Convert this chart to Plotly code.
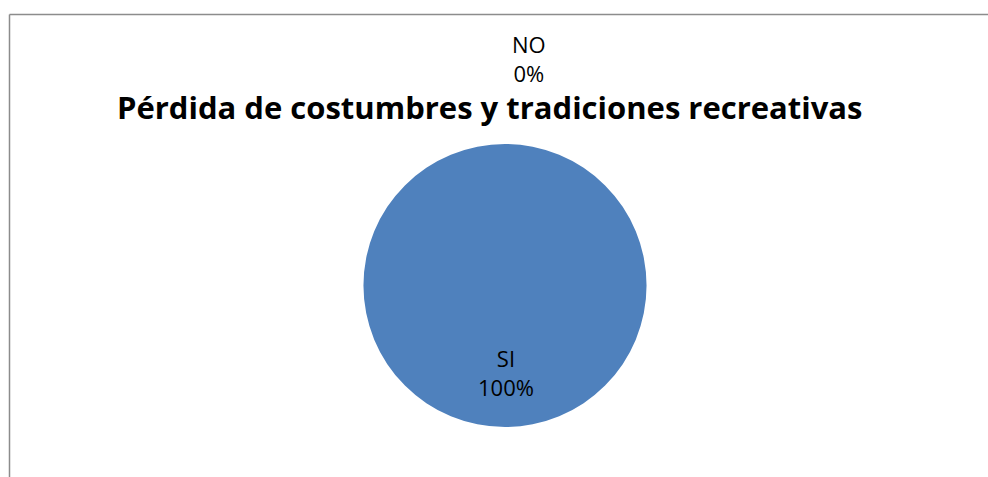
import plotly.graph_objects as go

labels = ["NO", "SI"]
values = [0, 100]
title_text = "Pérdida de costumbres y tradiciones recreativas"
colors = ["#C0504D", "#4F81BD"]

W, H = 988, 477
total = sum(values)
pcts = [f"{round(v / total * 100)}%" for v in values]

cx, cy, r = 505, 285.5, 141.5
fig = go.Figure(go.Pie(
    labels=labels, values=values, sort=False, direction="clockwise", rotation=0,
    marker=dict(colors=colors, line=dict(width=0)),
    textinfo="none", hoverinfo="label+percent", showlegend=False,
    domain=dict(x=[(cx - r) / W, (cx + r) / W], y=[1 - (cy + r) / H, 1 - (cy - r) / H]),
))

font_fam = "Open Sans, Liberation Sans, sans-serif"
# label positions (pixel)
label_pos = {"NO": (529, 58), "SI": (506, 372)}
for lab, pct in zip(labels, pcts):
    x, y = label_pos[lab]
    fig.add_annotation(x=x / W, y=1 - y / H, xref="paper", yref="paper",
                       text=f"{lab}<br>{pct}", showarrow=False,
                       font=dict(family=font_fam, size=22, color="#000000"),
                       xanchor="center", yanchor="middle", align="center")

fig.add_annotation(x=490 / W, y=1 - 107 / H, xref="paper", yref="paper",
                   text=f"<b>{title_text}</b>", showarrow=False,
                   font=dict(family=font_fam, size=31, color="#000000"),
                   xanchor="center", yanchor="middle")

# frame lines (left and top)
fig.add_shape(type="line", xref="paper", yref="paper", x0=9.5 / W, x1=9.5 / W,
              y0=0, y1=1 - 14.5 / H, line=dict(color="#8C8C8C", width=1.5))
fig.add_shape(type="line", xref="paper", yref="paper", x0=9.5 / W, x1=1,
              y0=1 - 14.5 / H, y1=1 - 14.5 / H, line=dict(color="#8C8C8C", width=1.5))

fig.update_layout(width=W, height=H, margin=dict(l=0, r=0, t=0, b=0),
                  paper_bgcolor="white", plot_bgcolor="white")
fig.write_html("out.html")
